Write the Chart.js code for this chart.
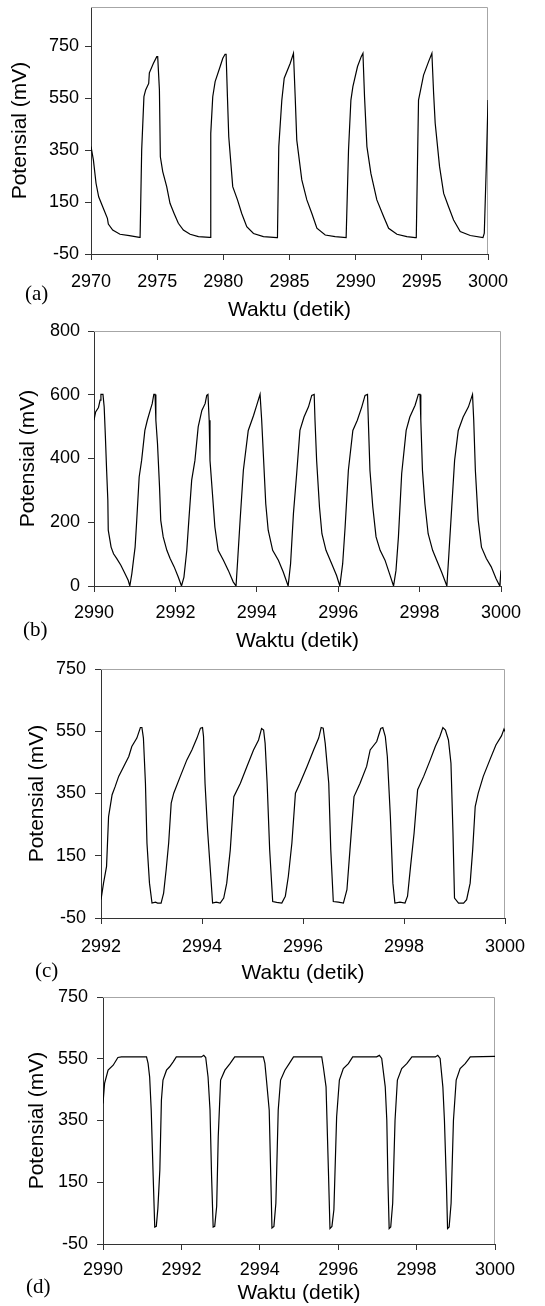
<!DOCTYPE html>
<html>
<head>
<meta charset="utf-8">
<script src="https://cdn.jsdelivr.net/npm/chart.js"></script>
<style>
  body { margin: 0; background: #fff; width: 545px; height: 1306px; position: relative; overflow: hidden; }
  canvas { position: absolute; left: 0; }
  .tag { position: absolute; font-family: "Liberation Serif", "Times New Roman", serif; font-size: 21px; line-height: 22px; color: #000; }
</style>
</head>
<body>
<canvas id="chartA"></canvas>
<canvas id="chartB"></canvas>
<canvas id="chartC"></canvas>
<canvas id="chartD"></canvas>
<div class="tag" style="left:25px; top:282px;">(a)</div>
<div class="tag" style="left:23px; top:618px;">(b)</div>
<div class="tag" style="left:35px; top:959px;">(c)</div>
<div class="tag" style="left:26px; top:1275px;">(d)</div>
<script>
"use strict";

// 1: data (time in s, potential in mV)
let timeA = [2970, 2970.18, 2970.38, 2970.58, 2970.93, 2971.24, 2971.31, 2971.64, 2972.19, 2972.9, 2973.66,
  2973.71, 2973.83, 2974.0, 2974.13, 2974.36, 2974.41, 2974.71, 2974.97, 2975.04,
  2975.17, 2975.24, 2975.42, 2975.72, 2975.97, 2976.28, 2976.6, 2976.98, 2977.49, 2978.12, 2978.95,
  2979.0, 2979.05, 2979.2, 2979.38, 2979.76, 2979.96, 2980.13, 2980.21,
  2980.31, 2980.41, 2980.71, 2981.07, 2981.39, 2981.77, 2982.28, 2983.03, 2984.04,
  2984.09, 2984.19, 2984.42, 2984.6, 2985.05, 2985.3,
  2985.43, 2985.55, 2985.93, 2986.31, 2986.69, 2987.07, 2987.7, 2988.45, 2989.28,
  2989.33, 2989.46, 2989.64, 2989.79, 2990.14, 2990.42, 2990.55,
  2990.67, 2990.85, 2991.15, 2991.6, 2992.11, 2992.49, 2993.12, 2993.87, 2994.5,
  2994.58, 2994.75, 2994.93, 2995.13, 2995.51, 2995.76,
  2995.89, 2996.01, 2996.34, 2996.65, 2997.02, 2997.4, 2997.9, 2998.66, 2999.62,
  2999.72, 2999.87, 3000];
let potA = [363, 312, 222, 170, 126, 87, 65, 42, 26, 21, 14,
  14, 350, 555, 581, 606, 647, 683, 709, 709,
  581, 324, 267, 209, 145, 106, 68, 42, 26, 17, 14,
  14, 414, 555, 613, 671, 703, 718, 718,
  555, 401, 209, 158, 106, 55, 29, 17, 13,
  13, 363, 542, 626, 683, 722,
  555, 388, 235, 158, 106, 49, 23, 17, 13,
  13, 350, 542, 594, 671, 709, 722,
  555, 363, 260, 158, 94, 49, 26, 17, 13,
  13, 542, 587, 638, 690, 722,
  568, 453, 286, 183, 132, 81, 36, 21, 13,
  30, 286, 542];
let xTicksA = [2970, 2975, 2980, 2985, 2990, 2995, 3000];
let yTicksA = [-50, 150, 350, 550, 750];

let timeB = [2990, 2990.04, 2990.11, 2990.15, 2990.17, 2990.22, 2990.25, 2990.28, 2990.31, 2990.34, 2990.35, 2990.42, 2990.48, 2990.56, 2990.66, 2990.76, 2990.84, 2990.88,
  2990.93, 2990.97, 2991.01, 2991.05, 2991.11, 2991.17, 2991.25, 2991.31, 2991.38, 2991.43, 2991.47, 2991.5,
  2991.52, 2991.56, 2991.61, 2991.64, 2991.7, 2991.79, 2991.87, 2991.97, 2992.07, 2992.15,
  2992.21, 2992.28, 2992.33, 2992.4, 2992.48, 2992.56, 2992.65, 2992.73, 2992.77, 2992.8,
  2992.83, 2992.85, 2992.91, 2992.97, 2993.05, 2993.18, 2993.3, 2993.42, 2993.49,
  2993.53, 2993.59, 2993.67, 2993.79, 2993.92, 2994.01, 2994.08,
  2994.12, 2994.16, 2994.22, 2994.28, 2994.39, 2994.53, 2994.65, 2994.77,
  2994.83, 2994.9, 2994.98, 2995.06, 2995.16, 2995.27, 2995.35, 2995.41,
  2995.43, 2995.47, 2995.54, 2995.6, 2995.7, 2995.84, 2995.96, 2996.04,
  2996.11, 2996.17, 2996.25, 2996.36, 2996.47, 2996.58, 2996.66, 2996.72,
  2996.74, 2996.78, 2996.85, 2996.93, 2997.03, 2997.15, 2997.26, 2997.36,
  2997.42, 2997.48, 2997.56, 2997.67, 2997.76, 2997.89, 2997.97, 2998.01,
  2998.03, 2998.07, 2998.13, 2998.21, 2998.32, 2998.42, 2998.54, 2998.67,
  2998.72, 2998.79, 2998.86, 2998.95, 2999.07, 2999.2, 2999.3,
  2999.33, 2999.37, 2999.44, 2999.52, 2999.64, 2999.76, 2999.88, 2999.97, 3000];
let potB = [520, 546, 560, 583, 601, 601, 562, 468, 363, 269, 175, 122, 101, 86, 65, 39, 18, 0,
  39, 81, 122, 206, 342, 394, 488, 520, 551, 572, 601, 601,
  520, 447, 311, 206, 154, 112, 86, 60, 28, 0,
  28, 112, 206, 332, 394, 499, 551, 572, 598, 601,
  520, 394, 290, 185, 112, 81, 49, 13, 0,
  81, 206, 363, 488, 535, 572, 601,
  520, 415, 258, 175, 112, 81, 44, 0,
  70, 227, 353, 488, 530, 562, 598, 601,
  520, 394, 248, 164, 112, 70, 33, 0,
  70, 185, 363, 488, 520, 562, 598, 601,
  520, 363, 248, 154, 112, 81, 39, 0,
  49, 154, 353, 488, 530, 567, 601, 601,
  520, 363, 258, 164, 112, 81, 44, 0,
  101, 248, 394, 488, 530, 562, 601,
  520, 363, 206, 122, 86, 60, 23, 0, 49];
let xTicksB = [2990, 2992, 2994, 2996, 2998, 3000];
let yTicksB = [0, 200, 400, 600, 800];

let timeC = [2992, 2992.05, 2992.11, 2992.15, 2992.22, 2992.28, 2992.35, 2992.45, 2992.55, 2992.61, 2992.71, 2992.78, 2992.81, 2992.84,
  2992.88, 2992.91, 2992.96, 2993.01, 2993.08, 2993.12, 2993.19,
  2993.24, 2993.29, 2993.34, 2993.39, 2993.44, 2993.57, 2993.7, 2993.8, 2993.9, 2993.97, 2994.01, 2994.03,
  2994.06, 2994.11, 2994.16, 2994.21, 2994.28, 2994.36,
  2994.43, 2994.49, 2994.56, 2994.63, 2994.76, 2994.89, 2995.02, 2995.12, 2995.18, 2995.22, 2995.25,
  2995.29, 2995.34, 2995.4, 2995.48, 2995.58,
  2995.65, 2995.71, 2995.78, 2995.85, 2995.94, 2996.08, 2996.21, 2996.31, 2996.36, 2996.4, 2996.44,
  2996.51, 2996.55, 2996.6, 2996.7, 2996.8,
  2996.87, 2996.93, 2997.01, 2997.13, 2997.26, 2997.33, 2997.46, 2997.54, 2997.58, 2997.63,
  2997.67, 2997.73, 2997.78, 2997.82, 2997.92, 2998.02,
  2998.07, 2998.13, 2998.2, 2998.27, 2998.39, 2998.52, 2998.62, 2998.71, 2998.77, 2998.82, 2998.88,
  2998.93, 2998.97, 2999.0, 2999.08, 2999.18,
  2999.24, 2999.31, 2999.36, 2999.41, 2999.47, 2999.57, 2999.7, 2999.82, 2999.93, 2999.98, 3000];
let potC = [9, 62, 116, 276, 346, 372, 405, 437, 469, 501, 528, 562, 562, 528,
  383, 191, 62, -2, 1, -2, -2,
  30, 105, 191, 319, 351, 405, 458, 490, 528, 560, 562, 533,
  383, 233, 116, -2, 1, -2,
  14, 62, 169, 340, 383, 437, 490, 522, 559, 554, 511,
  383, 169, 3, 0, -2,
  20, 84, 191, 351, 383, 437, 490, 528, 562, 560, 511,
  383, 169, 3, 1, -2,
  41, 169, 340, 383, 437, 490, 517, 559, 562, 533,
  469, 276, 62, -2, 1, -2,
  20, 116, 223, 362, 405, 458, 501, 533, 562, 554, 522,
  447, 223, 14, -2, -2,
  9, 62, 169, 308, 351, 405, 458, 506, 535, 557, 549];
let xTicksC = [2992, 2994, 2996, 2998, 3000];
let yTicksC = [-50, 150, 350, 550, 750];

let timeD = [2990, 2990.04, 2990.13, 2990.26, 2990.38, 2990.47, 2991.11,
  2991.15, 2991.19, 2991.23, 2991.28, 2991.32, 2991.36, 2991.4, 2991.45, 2991.49, 2991.53, 2991.62, 2991.7, 2991.79, 2991.87, 2992.51,
  2992.57, 2992.62, 2992.68, 2992.73, 2992.77, 2992.81, 2992.85, 2992.9, 2992.94, 2993.0, 2993.11, 2993.24, 2993.36, 2994.09,
  2994.13, 2994.17, 2994.24, 2994.28, 2994.31, 2994.36, 2994.41, 2994.47, 2994.53, 2994.64, 2994.75, 2994.86, 2995.58,
  2995.62, 2995.69, 2995.75, 2995.79, 2995.84, 2995.89, 2995.96, 2996.03, 2996.13, 2996.26, 2996.37, 2996.98,
  2997.05, 2997.11, 2997.2, 2997.24, 2997.27, 2997.3, 2997.34, 2997.39, 2997.45, 2997.51, 2997.62, 2997.75, 2997.88, 2998.48,
  2998.54, 2998.6, 2998.67, 2998.71, 2998.76, 2998.79, 2998.83, 2998.88, 2998.94, 2999.01, 2999.11, 2999.24, 2999.37, 3000];
let potD = [405, 470, 513, 529, 554, 556, 556,
  535, 491, 384, 169, 5, 7, 66, 190, 416, 481, 513, 524, 540, 556, 556,
  561, 554, 491, 384, 169, 5, 7, 72, 298, 481, 513, 534, 556, 556,
  535, 481, 384, 169, 2, 7, 82, 384, 481, 513, 534, 556, 556,
  524, 459, 190, 0, 7, 61, 362, 481, 518, 534, 556, 556,
  561, 551, 459, 351, 147, 0, 5, 82, 351, 481, 518, 534, 556, 556,
  561, 551, 459, 351, 147, 0, 5, 82, 351, 481, 518, 534, 556, 558];
let xTicksD = [2990, 2992, 2994, 2996, 2998, 3000];
let yTicksD = [-50, 150, 350, 550, 750];

// 2: layout of the four panels (page pixels)
const PAGE_W = 545;
const AXIS = '#333';
const panels = [
  { id: 'chartA', time: timeA, pot: potA, xTicks: xTicksA, yTicks: yTicksA, xMin: 2970, xMax: 3000, yMin: -50, yMax: 900,
    left: 91, right: 488, top: 7, bottom: 254, xLabelY: 282, xTitleY: 310, yTitleX: 20, labelRight: 79 },
  { id: 'chartB', time: timeB, pot: potB, xTicks: xTicksB, yTicks: yTicksB, xMin: 2990, xMax: 3000, yMin: 0, yMax: 800,
    left: 94, right: 501, top: 331, bottom: 586, xLabelY: 613, xTitleY: 641, yTitleX: 28, labelRight: 80 },
  { id: 'chartC', time: timeC, pot: potC, xTicks: xTicksC, yTicks: yTicksC, xMin: 2992, xMax: 3000, yMin: -50, yMax: 750,
    left: 101, right: 505, top: 669, bottom: 918, xLabelY: 947, xTitleY: 973, yTitleX: 37, labelRight: 86 },
  { id: 'chartD', time: timeD, pot: potD, xTicks: xTicksD, yTicks: yTicksD, xMin: 2990, xMax: 3000, yMin: -50, yMax: 750,
    left: 103, right: 495, top: 997, bottom: 1244, xLabelY: 1270, xTitleY: 1293, yTitleX: 37, labelRight: 88 }
];

Chart.defaults.font.family = '"Liberation Sans", Arial, sans-serif';
Chart.defaults.color = '#000';

// light grey top/right frame of the plot area
const framePlugin = {
  id: 'frame',
  beforeDatasetsDraw(chart) {
    const { ctx, chartArea: a } = chart;
    const t = Math.round(a.top) + 0.5, r = Math.round(a.right) - 0.5;
    ctx.save();
    ctx.strokeStyle = '#a6a6a6';
    ctx.lineWidth = 1;
    ctx.beginPath();
    ctx.moveTo(a.left, t);
    ctx.lineTo(r, t);
    ctx.lineTo(r, a.bottom);
    ctx.stroke();
    ctx.restore();
  }
};

// 3: create and append each chart
function appendChart(p) {
  const tickSize = 18, titleSize = 21, tickLen = 6;
  const tickLH = tickSize * 1.2, titleLH = titleSize * 1.2;
  const canvasTop = Math.max(0, p.top - 22);
  const canvasH = p.xTitleY + 15 - canvasTop;
  const canvas = document.getElementById(p.id);
  canvas.width = PAGE_W;
  canvas.height = canvasH;
  canvas.style.top = canvasTop + 'px';

  const points = p.time.map((t, i) => ({ x: t, y: p.pot[i] }));

  new Chart(canvas, {
    type: 'line',
    data: {
      datasets: [{
        data: points,
        borderColor: '#000',
        borderWidth: 1.2,
        pointRadius: 0,
        tension: 0,
        fill: false
      }]
    },
    options: {
      responsive: false,
      animation: false,
      devicePixelRatio: 1,
      layout: { padding: { top: p.top - canvasTop, right: PAGE_W - p.right, left: 0, bottom: 0 } },
      plugins: { legend: { display: false }, tooltip: { enabled: false } },
      scales: {
        x: {
          type: 'linear',
          min: p.xMin,
          max: p.xMax,
          afterBuildTicks: s => { s.ticks = p.xTicks.map(v => ({ value: v })); },
          afterFit: s => { s.height = canvasH - (p.bottom - canvasTop); s.paddingLeft = 0; s.paddingRight = 0; },
          ticks: {
            callback: v => String(v),
            autoSkip: false,
            maxRotation: 0,
            padding: p.xLabelY - p.bottom - tickLen - tickLH / 2,
            font: { size: tickSize }
          },
          grid: { drawOnChartArea: false, drawTicks: true, tickLength: tickLen, color: AXIS },
          border: { color: AXIS, width: 1 },
          title: {
            display: true,
            text: 'Waktu (detik)',
            font: { size: titleSize },
            padding: { top: 0, bottom: canvasTop + canvasH - p.xTitleY - titleLH / 2 }
          }
        },
        y: {
          min: p.yMin,
          max: p.yMax,
          afterBuildTicks: s => { s.ticks = p.yTicks.map(v => ({ value: v })); },
          afterFit: s => { s.width = p.left; s.paddingTop = 0; s.paddingBottom = 0; },
          ticks: {
            callback: v => String(v),
            autoSkip: false,
            padding: p.left - tickLen - p.labelRight,
            font: { size: tickSize }
          },
          grid: { drawOnChartArea: false, drawTicks: true, tickLength: tickLen, color: AXIS },
          border: { color: AXIS, width: 1 },
          title: {
            display: true,
            text: 'Potensial (mV)',
            font: { size: titleSize },
            padding: { top: p.yTitleX - titleLH / 2, bottom: 0 }
          }
        }
      }
    },
    plugins: [framePlugin]
  });
}

for (const p of panels) {
  appendChart(p);
}
</script>
</body>
</html>
